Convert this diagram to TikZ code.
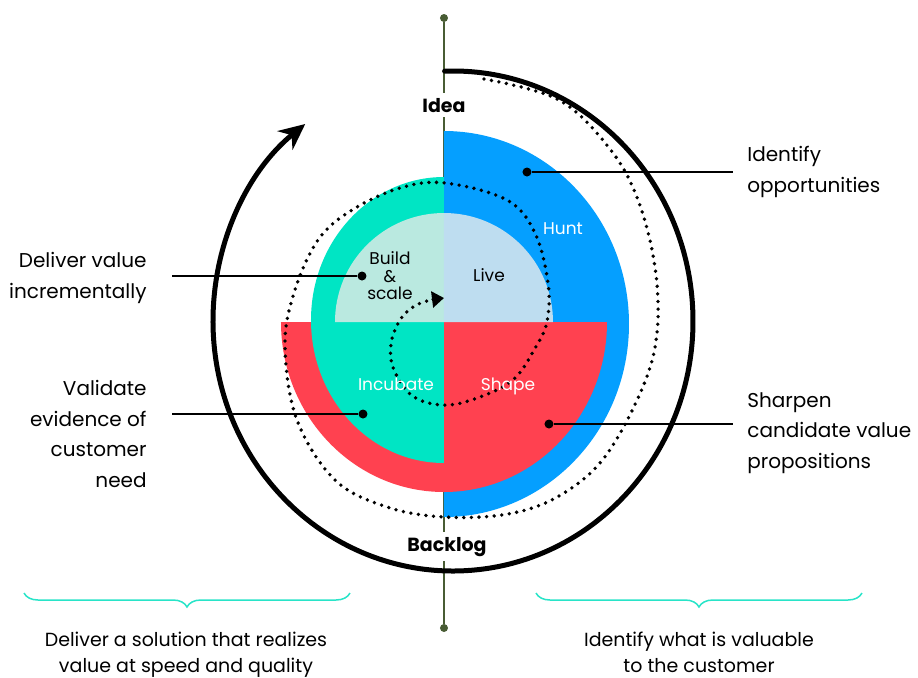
\documentclass[tikz,border=0pt]{standalone}
\usepackage{fontspec}
\setmainfont{Poppins}
\usepackage{tikz}
\tikzset{>=latex}
\usetikzlibrary{arrows.meta}
\usetikzlibrary{decorations.pathreplacing}
\definecolor{huntblue}{RGB}{5,159,255}
\definecolor{shapered}{RGB}{255,65,80}
\definecolor{incubateteal}{RGB}{0,229,196}
\definecolor{buildteal}{RGB}{186,233,224}
\definecolor{liveblue}{RGB}{190,221,240}
\definecolor{axisgreen}{RGB}{72,92,52}
\definecolor{braceteal}{RGB}{40,228,200}
\tikzset{
    marker/.style={circle, fill, inner sep=0pt, minimum size=4.5pt},
    pointer/.style={line width=1pt},
    caption/.style={inner sep=0pt, font=\fontsize{10}{15.2}\selectfont},
    phase/.style={inner sep=0pt, anchor=base, font=\fontsize{8.5}{8.8}\selectfont},
    milestone/.style={fill=white, inner sep=2.5pt, anchor=base, font=\bfseries\fontsize{9.5}{10}\selectfont},
    summary/.style={inner sep=0pt, align=center, font=\fontsize{9.5}{13}\selectfont},
    spiral/.style={line width=1.9pt, dash pattern=on 0pt off 3.8pt, line cap=round}
}

\begin{document}
\begin{tikzpicture}[x=0.5pt, y=0.5pt]
            \useasboundingbox (-444,-355) rectangle (474,322);
            \node[marker, axisgreen, minimum size=4pt] (axis-top) at (0,304) {};
            \node[marker, axisgreen, minimum size=4pt] (axis-bottom) at (0,-306) {};
            \draw[axisgreen, line width=0.7pt] (axis-top) -- (axis-bottom);
            \fill[huntblue] (0,-195) arc[start angle=-90, end angle=90, x radius=185, y radius=193] -- cycle;
            \fill[shapered] (-163,0) arc[start angle=180, end angle=360, x radius=163, y radius=170] -- cycle;
            \fill[incubateteal] (0,145) arc[start angle=90, end angle=270, x radius=133, y radius=143] -- cycle;
            \fill[buildteal] (0,0) -- (0,109) arc[start angle=90, end angle=180, radius=109] -- cycle;
            \fill[liveblue] (0,0) -- (109,0) arc[start angle=0, end angle=90, radius=109] -- cycle;
            \draw[spiral, -{Triangle[length=6pt, width=8pt]}] plot[smooth, tension=0.6] coordinates {
                (40,243) (115,222) (166,173) (194,122) (211,55) (213,-11) (198,-67) (160,-136)
                (115,-174) (64,-192) (0,-195) (-57,-185) (-109,-158) (-147,-98) (-159,-25)
                (-150,29) (-126,82) (-92,112) (-44,134) (1,139) (63,122) (91,89) (104,39)
                (103,0) (90,-28) (72,-55) (46,-71) (5,-83) (-30,-75) (-50,-48) (-53,-22)
                (-44,2) (-31,15) (-17,21) (0,24)};
            \node[marker] (hunt-dot) at (83,150) {};
            \coordinate (hunt-end) at (289,150);
            \node[caption, anchor=west, align=left] (hunt-text) at (303,150) {Identify\\opportunities};
            \draw[pointer] (hunt-dot) -- (hunt-end);
            \node[marker] (shape-dot) at (105,-102) {};
            \coordinate (shape-end) at (289,-102);
            \node[caption, anchor=west, align=left] (shape-text) at (303,-111) {Sharpen\\candidate value\\propositions};
            \draw[pointer] (shape-dot) -- (shape-end);
            \node[marker] (build-dot) at (-82,46) {};
            \coordinate (build-end) at (-272,46);
            \node[caption, anchor=east, align=right] (build-text) at (-297,44) {Deliver value\\incrementally};
            \draw[pointer] (build-dot) -- (build-end);
            \node[marker] (incubate-dot) at (-81,-92) {};
            \coordinate (incubate-end) at (-272,-92);
            \node[caption, anchor=east, align=right] (incubate-text) at (-297,-112) {Validate\\evidence of\\customer\\need};
            \draw[pointer] (incubate-dot) -- (incubate-end);
            \draw[line width=2.5pt, line cap=round, -{Stealth[length=13pt, width=12pt]}] (9,1) ++(92:240 and 250) arc[start angle=92, end angle=-232, x radius=240, y radius=250];
            \node[phase, text=white] (hunt) at (119,88) {Hunt};
            \node[phase] (live) at (45,41) {Live};
            \node[phase, anchor=center, align=center] (build) at (-54,46) {Build\\\&\\scale};
            \node[phase, text=white] (incubate) at (-48,-68) {Incubate};
            \node[phase, text=white] (shape) at (64,-68) {Shape};
            \node[milestone] (idea) at (0,210) {Idea};
            \node[milestone] (backlog) at (3,-229) {Backlog};
            \coordinate (deliver-a) at (-420,-271);
            \coordinate (deliver-b) at (-94,-271);
            \coordinate (identify-a) at (92,-271);
            \coordinate (identify-b) at (418,-271);
            \draw[braceteal, line width=0.75pt, decorate, decoration={brace, amplitude=7pt}] (deliver-b) -- (deliver-a);
            \draw[braceteal, line width=0.75pt, decorate, decoration={brace, amplitude=7pt}] (identify-b) -- (identify-a);
            \node[summary] (deliver-text) at (-258,-333) {Deliver a solution that realizes\\value at speed and quality};
            \node[summary] (identify-text) at (255,-330.5) {Identify what is valuable\\to the customer};
        \end{tikzpicture}
\end{document}
